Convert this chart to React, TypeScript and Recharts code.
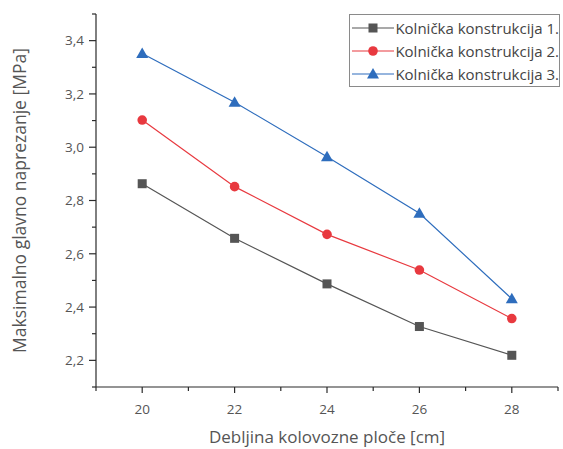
import { LineChart, Line, XAxis, YAxis, Legend } from 'recharts';

const thickness = [20, 22, 24, 26, 28];
const konstrukcija1 = [2.863, 2.658, 2.487, 2.327, 2.219];
const konstrukcija2 = [3.102, 2.852, 2.673, 2.539, 2.357];
const konstrukcija3 = [3.352, 3.169, 2.964, 2.752, 2.431];

const seriesNames = ['Kolnička konstrukcija 1.', 'Kolnička konstrukcija 2.', 'Kolnička konstrukcija 3.'];
const seriesColors = ['#555555', '#e8393f', '#2e6dbd'];
const seriesShapes = ['square', 'circle', 'triangle'];

const xTicks = [19, 20, 21, 22, 23, 24, 25, 26, 27, 28, 29];
const yTicks = [2.1, 2.2, 2.3, 2.4, 2.5, 2.6, 2.7, 2.8, 2.9, 3.0, 3.1, 3.2, 3.3, 3.4, 3.5];

const data = thickness.map((t, i) => ({
  t,
  k1: konstrukcija1[i],
  k2: konstrukcija2[i],
  k3: konstrukcija3[i],
}));

const FONT = '"Open Sans", "Noto Sans", sans-serif';
const TEXT = '#555555';
const AXIS = '#2a2a2a';

function Marker({ shape, cx, cy, color }: { shape: string; cx: number; cy: number; color: string }) {
  if (cx == null || cy == null) return null;
  if (shape === 'square') {
    return <rect x={cx - 4.5} y={cy - 4.5} width={9} height={9} fill={color} />;
  }
  if (shape === 'circle') {
    return <circle cx={cx} cy={cy} r={4.8} fill={color} />;
  }
  return (
    <polygon
      points={`${cx},${cy - 6} ${cx - 6},${cy + 4.5} ${cx + 6},${cy + 4.5}`}
      fill={color}
    />
  );
}

const fmt = (v: number) => v.toFixed(1).replace('.', ',');

function YTick(props: any) {
  const { x, y, payload } = props;
  const v = payload.value;
  const major = Math.round(v * 10) % 2 === 0;
  const ax = x + 9;
  return (
    <g>
      <line x1={ax - (major ? 7 : 4)} x2={ax} y1={y} y2={y} stroke={AXIS} strokeWidth={1.2} />
      {major && (
        <text x={ax - 12} y={y} dy="0.35em" textAnchor="end" fontSize={13.5} fill={TEXT} fontFamily={FONT}>
          {fmt(v)}
        </text>
      )}
    </g>
  );
}

function XTick(props: any) {
  const { x, y, payload } = props;
  const v = payload.value;
  const major = v % 2 === 0;
  const ay = y - 9;
  return (
    <g>
      <line x1={x} x2={x} y1={ay} y2={ay + (major ? 6 : 4)} stroke={AXIS} strokeWidth={1.2} />
      {major && (
        <text x={x} y={ay + 22} dy="0.35em" textAnchor="middle" fontSize={13.5} fill={TEXT} fontFamily={FONT}>
          {v}
        </text>
      )}
    </g>
  );
}

function LegendBox() {
  return (
    <div
      style={{
        border: '1.5px solid #8a8a8a',
        background: '#fff',
        width: 209,
        padding: '1px 0 1px 0',
        fontFamily: FONT,
        fontSize: 15,
        color: '#444',
      }}
    >
      {seriesNames.map((name, i) => (
        <div key={name} style={{ display: 'flex', alignItems: 'center', height: 23 }}>
          <svg width={46} height={14} style={{ marginLeft: 2 }}>
            <line x1={0} x2={42} y1={7} y2={7} stroke={seriesColors[i]} strokeWidth={1.2} />
            <Marker shape={seriesShapes[i]} cx={21} cy={7} color={seriesColors[i]} />
          </svg>
          <span style={{ whiteSpace: 'nowrap' }}>{name}</span>
        </div>
      ))}
    </div>
  );
}

export default function App() {
  const keys = ['k1', 'k2', 'k3'];
  return (
    <div style={{ position: 'absolute', left: 0, top: 0, width: 563, height: 449, background: '#fff' }}>
      <LineChart width={563} height={449} data={data} margin={{ top: 14, right: 5, bottom: 32, left: 46 }}>
        <XAxis
          dataKey="t"
          type="number"
          domain={[19, 29]}
          ticks={xTicks}
          interval={0}
          tick={<XTick />}
          tickLine={false}
          tickSize={6}
          tickMargin={3}
          height={30}
          axisLine={{ stroke: AXIS, strokeWidth: 1.2 }}
          label={{
            value: 'Debljina kolovozne ploče [cm]',
            position: 'insideBottom',
            offset: -26,
            style: { fontSize: 17, fill: TEXT, fontFamily: FONT },
          }}
        />
        <YAxis
          type="number"
          domain={[2.1, 3.5]}
          ticks={yTicks}
          interval={0}
          tick={<YTick />}
          tickLine={false}
          tickSize={6}
          tickMargin={3}
          width={50}
          axisLine={{ stroke: AXIS, strokeWidth: 1.2 }}
          label={{
            value: 'Maksimalno glavno naprezanje [MPa]',
            angle: -90,
            position: 'insideLeft',
            offset: -26,
            style: { fontSize: 17.5, fill: TEXT, fontFamily: FONT, textAnchor: 'middle' },
          }}
        />
        <Legend
          layout="vertical"
          align="center"
          verticalAlign="middle"
          wrapperStyle={{ left: 349, top: 14, width: 212 }}
          content={() => <LegendBox />}
        />
        {keys.map((k, i) => (
          <Line
            key={k}
            type="linear"
            dataKey={k}
            name={seriesNames[i]}
            stroke={seriesColors[i]}
            strokeWidth={1.2}
            isAnimationActive={false}
            dot={(p: any) => <Marker key={`${k}-${p.index}`} shape={seriesShapes[i]} cx={p.cx} cy={p.cy} color={seriesColors[i]} />}
            activeDot={false}
          />
        ))}
      </LineChart>
    </div>
  );
}
